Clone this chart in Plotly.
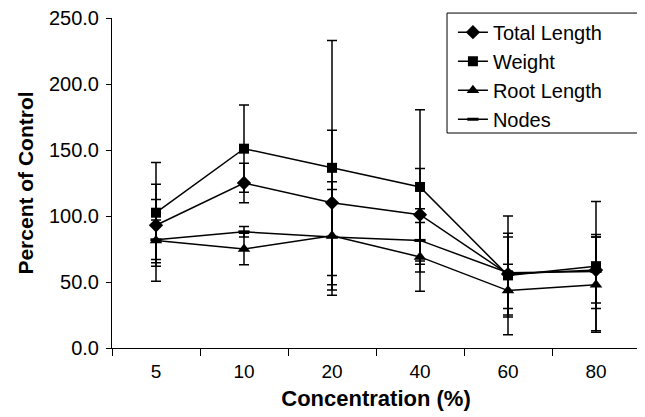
import plotly.graph_objects as go

categories = ['5', '10', '20', '40', '60', '80']

total_length = [93, 125, 110, 101, 56, 59]
total_length_err = [31, 15, 55, 35, 31, 25]

weight = [102.5, 151, 136.5, 122, 55, 62]
weight_err = [38, 33, 96.5, 58.5, 45, 49]

root_length = [81.5, 75, 85, 69, 43.5, 48]
root_length_err = [31, 12, 41, 26, 20, 36]

nodes = [82, 88, 84, 81.5, 57, 58]
nodes_err = [15, 4, 36, 24, 27, 28]

FONT = "Liberation Sans, Arial, Helvetica, sans-serif"

series = [
    ("Total Length", total_length, total_length_err, dict(symbol="diamond", size=11)),
    ("Weight", weight, weight_err, dict(symbol="square", size=10)),
    ("Root Length", root_length, root_length_err, dict(symbol="triangle-up", size=11)),
    ("Nodes", nodes, nodes_err, dict(symbol="line-ew-open", size=8, line=dict(width=3, color="black"))),
]

fig = go.Figure()
for name, vals, errs, mk in series:
    fig.add_trace(go.Scatter(
        x=categories, y=vals, name=name, mode="lines+markers",
        line=dict(color="black", width=1.5),
        marker=dict(color="black", **mk),
        error_y=dict(type="data", array=errs, visible=True, color="black",
                     thickness=1.5, width=5),
    ))

# legend frame
fig.add_shape(type="rect", xref="paper", yref="paper",
              x0=0.6345, x1=0.996, y0=0.6515, y1=1.015,
              line=dict(color="black", width=1), fillcolor="rgba(0,0,0,0)", layer="above")

fig.update_layout(
    width=637, height=409,
    margin=dict(l=104, r=5, t=10, b=69, autoexpand=False),
    paper_bgcolor="white", plot_bgcolor="white",
    font=dict(family=FONT, size=17, color="black"),
    showlegend=True,
    legend=dict(
        x=0.6457, y=1.016, xanchor="left", yanchor="top",
        borderwidth=0, bgcolor="rgba(255,255,255,0)",
        font=dict(size=20), tracegroupgap=0,
    ),
    xaxis=dict(
        type="category", range=[-0.5, 5.5], automargin=False,
        showline=True, linecolor="black", linewidth=1,
        ticks="outside", tickson="boundaries", ticklen=7, tickcolor="black",
        showgrid=False, zeroline=False,
        tickfont=dict(size=19), ticklabelstandoff=6, ticklabeloverflow="allow",
        title=dict(text="<b>Concentration (%)</b>", font=dict(size=22), standoff=9),
    ),
    yaxis=dict(
        range=[0, 250], dtick=50, tickformat=".1f", automargin=False,
        showline=True, linecolor="black", linewidth=1,
        ticks="outside", ticklen=5, tickcolor="black",
        showgrid=False, zeroline=False,
        tickfont=dict(size=20), ticklabelstandoff=3, ticklabeloverflow="allow",
        title=dict(text="<b>Percent of Control</b>", font=dict(size=21), standoff=9),
    ),
)

fig.write_html("out.html")
